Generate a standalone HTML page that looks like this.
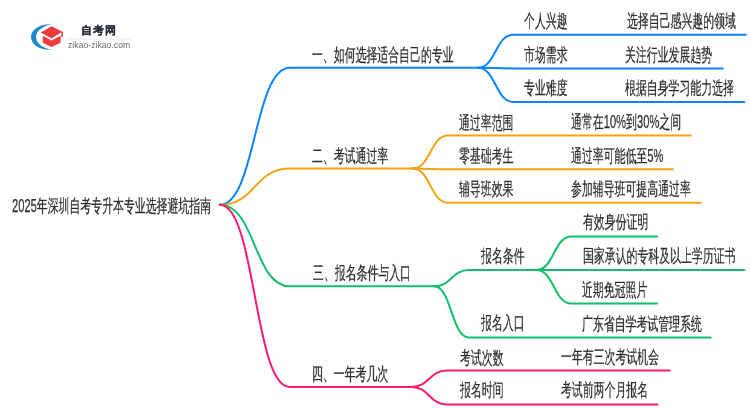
<!DOCTYPE html>
<html><head><meta charset="utf-8"><style>
html,body{margin:0;padding:0;background:#fff;width:750px;height:410px;overflow:hidden;position:relative;font-family:"Liberation Sans",sans-serif}
.t{position:absolute;font-size:17.5px;line-height:17.5px;white-space:nowrap;color:#2b2b2b;transform:scaleX(0.605);transform-origin:0 0;will-change:transform;-webkit-text-stroke:0.25px #2b2b2b}
.n{font-size:18.5px;line-height:0}
svg.lines{position:absolute;left:0;top:0}
svg.lines path{fill:none;stroke-width:2;stroke-linecap:round}
.logo{position:absolute;left:0;top:0}
</style></head><body>
<svg class="lines" width="750" height="410" viewBox="0 0 750 410">
<path d="M219.8,204.8 C255.8,204.8 253.8,67.7 289.8,67.7 L478.1,67.7" stroke="#0a84ff"/>
<path d="M478.1,67.7 C495.6,67.7 495.6,34.7 513.1,34.7 L745.8,34.7" stroke="#0a84ff"/>
<path d="M478.1,67.7 C495.6,67.7 495.6,68.4 513.1,68.4 L722.7,68.4" stroke="#0a84ff"/>
<path d="M478.1,67.7 C495.6,67.7 495.6,101.9 513.1,101.9 L744.2,101.9" stroke="#0a84ff"/>
<path d="M219.8,204.8 C255.8,204.8 253.8,168.6 289.8,168.6 L412.9,168.6" stroke="#f2a30f"/>
<path d="M412.9,168.6 C430.4,168.6 430.4,135.5 447.9,135.5 L690.8,135.5" stroke="#f2a30f"/>
<path d="M412.9,168.6 C430.4,168.6 430.4,169.3 447.9,169.3 L672.9,169.3" stroke="#f2a30f"/>
<path d="M412.9,168.6 C430.4,168.6 430.4,202.7 447.9,202.7 L701,202.7" stroke="#f2a30f"/>
<path d="M219.8,204.8 C255.8,204.8 253.8,286.3 289.8,286.3 L434,286.3" stroke="#12bf6a"/>
<path d="M434,286.3 C451.5,286.3 451.5,270.0 469,270.0 L536.4,270.0" stroke="#12bf6a"/>
<path d="M434,286.3 C451.5,286.3 451.5,337.4 469,337.4 L710.7,337.4" stroke="#12bf6a"/>
<path d="M536.4,270.0 C553.9,270.0 553.9,236.5 571.4,236.5 L657.1,236.5" stroke="#12bf6a"/>
<path d="M536.4,270.0 C553.9,270.0 553.9,270.0 571.4,270.0 L744.2,270.0" stroke="#12bf6a"/>
<path d="M536.4,270.0 C553.9,270.0 553.9,303.6 571.4,303.6 L657.1,303.6" stroke="#12bf6a"/>
<path d="M219.8,204.8 C255.8,204.8 253.8,387.0 289.8,387.0 L411.7,387.0" stroke="#ff1874"/>
<path d="M411.7,387.0 C429.2,387.0 429.2,370.6 446.7,370.6 L669.8,370.6" stroke="#ff1874"/>
<path d="M411.7,387.0 C429.2,387.0 429.2,404.4 446.7,404.4 L657.4,404.4" stroke="#ff1874"/>
</svg>
<div class="t" style="left:11.5px;top:197.7px"><span class=n>2025</span>年深圳自考专升本专业选择避坑指南</div>
<div class="t" style="left:311.7px;top:46.9px">一、如何选择适合自己的专业</div>
<div class="t" style="left:524.4px;top:13.1px">个人兴趣</div>
<div class="t" style="left:626.8px;top:13.4px">选择自己感兴趣的领域</div>
<div class="t" style="left:524.4px;top:47.0px">市场需求</div>
<div class="t" style="left:624.9px;top:47.4px">关注行业发展趋势</div>
<div class="t" style="left:524.4px;top:80.2px">专业难度</div>
<div class="t" style="left:625.4px;top:80.3px">根据自身学习能力选择</div>
<div class="t" style="left:312.4px;top:147.6px">二、考试通过率</div>
<div class="t" style="left:459.0px;top:114.7px">通过率范围</div>
<div class="t" style="left:571.1px;top:114.4px">通常在<span class=n>10%</span>到<span class=n>30%</span>之间</div>
<div class="t" style="left:459.0px;top:147.8px">零基础考生</div>
<div class="t" style="left:571.1px;top:148.0px">通过率可能低至<span class=n>5%</span></div>
<div class="t" style="left:459.0px;top:180.6px">辅导班效果</div>
<div class="t" style="left:571.4px;top:180.6px">参加辅导班可提高通过率</div>
<div class="t" style="left:313.0px;top:265.3px">三、报名条件与入口</div>
<div class="t" style="left:481.2px;top:248.1px">报名条件</div>
<div class="t" style="left:481.2px;top:315.4px">报名入口</div>
<div class="t" style="left:582.0px;top:315.7px">广东省自学考试管理系统</div>
<div class="t" style="left:583.2px;top:214.3px">有效身份证明</div>
<div class="t" style="left:582.6px;top:248.4px">国家承认的专科及以上学历证书</div>
<div class="t" style="left:582.2px;top:282.1px">近期免冠照片</div>
<div class="t" style="left:311.9px;top:365.7px">四、一年考几次</div>
<div class="t" style="left:459.8px;top:349.5px">考试次数</div>
<div class="t" style="left:560.8px;top:349.1px">一年有三次考试机会</div>
<div class="t" style="left:459.8px;top:382.3px">报名时间</div>
<div class="t" style="left:561.0px;top:382.3px">考试前两个月报名</div>
<svg class="logo" width="140" height="60" viewBox="0 0 140 60">
<path d="M51.5,24.2 C40,23.5 31,29.5 31,37 C31,44.5 40,50.5 51.5,49.8 C43,48 36,43.5 36,37 C36,30.5 43,26 51.5,24.2 Z" fill="#1d87c9"/>
<path d="M40.8,32.4 L51.5,26.3 L62.3,31.8 L51.5,38.4 Z" fill="#ee3b3f"/>
<path d="M61.4,31.8 L62.9,31.8 L62.9,37 L61.4,37 Z" fill="#ee3b3f"/>
<path d="M42.8,35.8 L51.5,40.6 L60.6,35.8 L60.6,42.8 L51.5,47 L42.8,42.8 Z" fill="#ee3b3f"/>
<line x1="66" y1="39.1" x2="131" y2="39.1" stroke="#e3e3e3" stroke-width="0.8"/>
</svg>
<div style="position:absolute;left:80.6px;top:23.4px;font-size:11.1px;line-height:14px;font-weight:bold;color:#262b36;-webkit-text-stroke:0.12px #262b36;letter-spacing:0.8px;will-change:transform">自考网</div>
<div style="position:absolute;left:67.7px;top:39.7px;font-size:8.5px;line-height:10px;color:#666;letter-spacing:0.08px;will-change:transform">zikao-zikao.com</div>

</body></html>
